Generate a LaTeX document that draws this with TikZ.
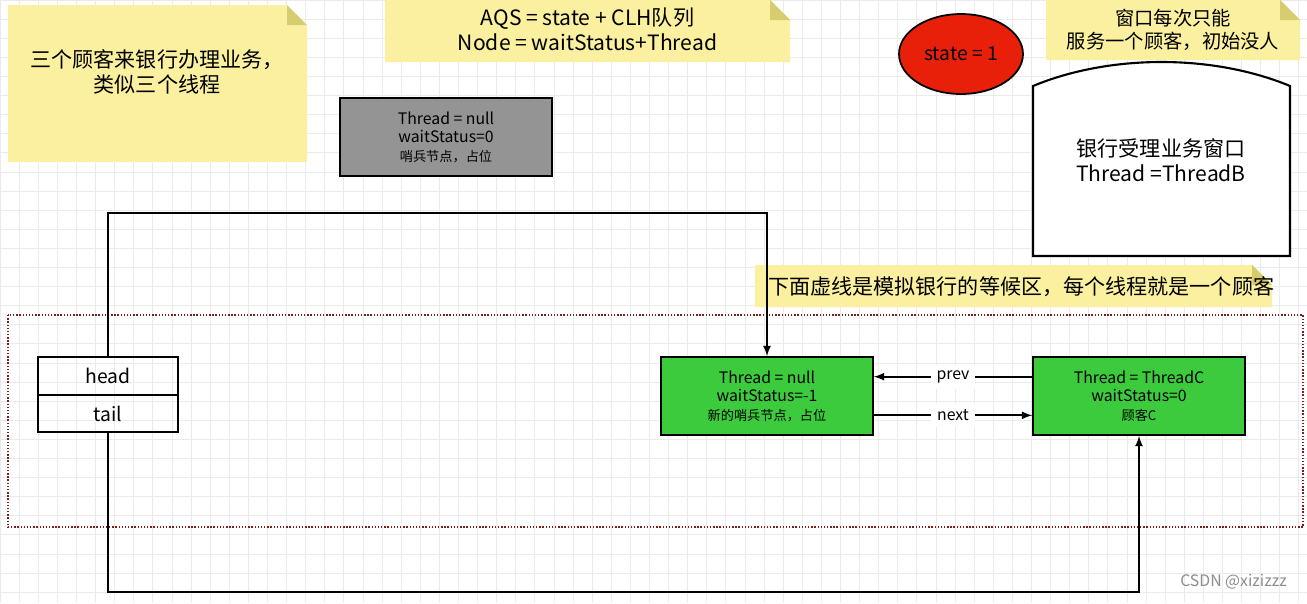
\documentclass[tikz,border=0pt]{standalone}
\usepackage{fontspec}
\setmainfont{Noto Sans CJK SC}
\usetikzlibrary{calc}
\usetikzlibrary{positioning}
\usetikzlibrary{shapes}
\definecolor{notey}{HTML}{FAF0A0}
\definecolor{foldy}{HTML}{D8CC70}
\definecolor{nodegreen}{HTML}{3CCB3C}
\definecolor{statered}{HTML}{E8200A}
\definecolor{dashred}{HTML}{7A2020}
\tikzset{block/.style={draw, line width=1pt, text centered, align=center, font=\fontsize{9}{10.5}\selectfont}}
\tikzset{connect/.style={draw, line width=1pt}}
\tikzset{note/.style={font=\fontsize{12}{14}\selectfont, align=center}}
\newcommand{\notebox}[5]{% x1,y1,x2,y2,name
  \fill[notey] (#1,#2) -- (#3-20,#2) -- (#3,#2+20) -- (#3,#4) -- (#1,#4) -- cycle;
  \fill[foldy] (#3-20,#2) -- (#3,#2+20) -- (#3-20,#2+20) -- cycle;
  \coordinate (#5) at ($(#1,#2)!0.5!(#3,#4)$);}
\begin{document}
\begin{tikzpicture}[x=0.02cm,y=-0.02cm]
\useasboundingbox (0,0) rectangle (1307,603);
\fill[white] (0,0) rectangle (1307,603);
% grid
\foreach \gx in {0,19.1,...,1307} \draw[black!8, line width=0.4pt] (\gx,0) -- (\gx,603);
\foreach \gy in {0,19.1,...,603} \draw[black!8, line width=0.4pt] (0,\gy) -- (1307,\gy);

%notes
\notebox{8}{5}{307}{162}{n1}
\node[note] at (157,72) {三个顾客来银行办理业务，\\类似三个线程};
\notebox{385}{0}{790}{62}{n2}
\node[note] at ([yshift=1pt]n2) {AQS = state + CLH队列\\Node = waitStatus+Thread};
\notebox{1046}{0}{1300}{60}{n3}
\node[note, font=\fontsize{11}{13}\selectfont] at (n3) {窗口每次只能\\服务一个顾客，初始没人};
\notebox{755}{265}{1272}{307}{n4}
\node[note, anchor=west] at (762,287) {下面虚线是模拟银行的等候区，每个线程就是一个顾客};

%sentinel and state
\node[block, fill=black!42, minimum width=4.24cm, minimum height=1.56cm] (sentinel) at (446,137) {Thread = null\\waitStatus=0\\{\fontsize{7.5}{9}\selectfont 哨兵节点，占位}};
\node[draw, line width=1pt, ellipse, fill=statered, minimum width=2.48cm, minimum height=1.6cm, font=\fontsize{11}{13}\selectfont] (state) at (961,54) {state = 1};

%window
\draw[line width=1.2pt, fill=white] (1033,256) -- (1033,86) .. controls (1110,54) and (1213,54) .. (1290,86) -- (1290,256) -- cycle;
\node[note] (window) at (1161,160) {银行受理业务窗口\\Thread =ThreadB};

%waiting area
\draw[dashred, line width=0.8pt, densely dotted] (8,315) rectangle (1303,527);
\node[block, minimum width=2.8cm, minimum height=0.76cm, font=\fontsize{11}{13}\selectfont] (head) at (108,376) {head};
\node[block, minimum width=2.8cm, minimum height=0.74cm, font=\fontsize{11}{13}\selectfont, below=-1pt of head] (tail) {tail};
\node[block, fill=nodegreen, minimum width=4.24cm, minimum height=1.56cm] (node1) at (767,396) {Thread = null\\waitStatus=-1\\{\fontsize{7.5}{9}\selectfont 新的哨兵节点，占位}};
\node[block, fill=nodegreen, minimum width=4.24cm, minimum height=1.56cm] (node2) at (1139,396) {Thread = ThreadC\\waitStatus=0\\{\fontsize{7.5}{9}\selectfont 顾客C}};

%links
\path[connect,-latex] ([yshift=11pt]node2.west) -- node[fill=white, font=\fontsize{9}{10}\selectfont]{prev} ([yshift=11pt]node1.east);
\path[connect,-latex] ([yshift=-11pt]node1.east) -- node[fill=white, font=\fontsize{9}{10}\selectfont]{next} ([yshift=-11pt]node2.west);
\path[connect,-latex] (head.north) -- (108,213) -| (node1.north);
\path[connect,-latex] (tail.south) -- (108,592) -| (node2.south);

\node[text=black!45, font=\fontsize{9}{11}\selectfont, anchor=east] (mark) at (1293,582) {CSDN @xizizzz};
\end{tikzpicture}
\end{document}
